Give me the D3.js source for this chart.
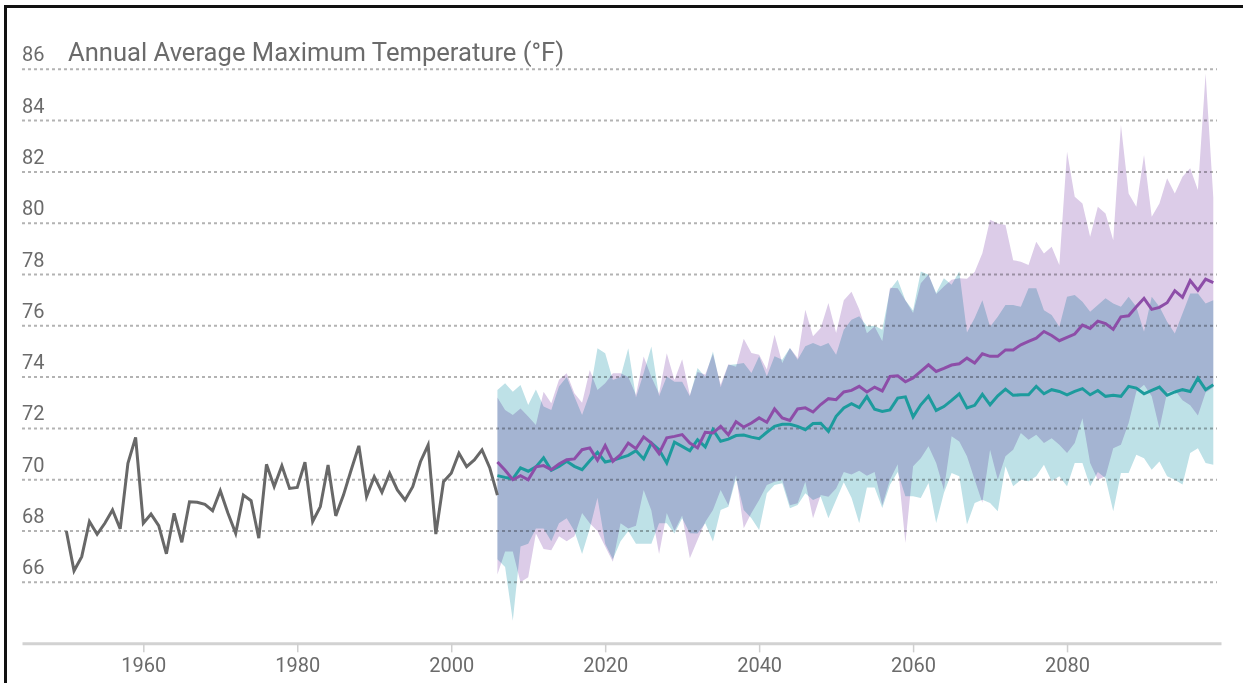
<!DOCTYPE html>
<html>
<head>
<meta charset="utf-8">
<script src="https://cdn.jsdelivr.net/npm/d3@7"></script>
<style>
  html, body { margin: 0; padding: 0; background: #ffffff; }
  svg { display: block; font-family: Roboto, "Noto Sans", sans-serif; }
  .band { mix-blend-mode: multiply; }
</style>
</head>
<body>
<svg id="chart" width="1243" height="683"></svg>
<script>
// ---------------- data ----------------
const chartTitle = "Annual Average Maximum Temperature (°F)";
const yTickValues = [66, 68, 70, 72, 74, 76, 78, 80, 82, 84, 86];
const xTickValues = [1960, 1980, 2000, 2020, 2040, 2060, 2080];

const histStartYear = 1950;
const histTemps = [
  68.00, 66.45, 67.00, 68.37, 67.87, 68.30, 68.82, 68.08, 70.64, 71.65,
  68.30, 68.66, 68.21, 67.11, 68.69, 67.56, 69.14, 69.12, 69.04, 68.79,
  69.57, 68.69, 67.91, 69.40, 69.18, 67.72, 70.60, 69.73, 70.54, 69.66,
  69.70, 70.68, 68.37, 68.95, 70.57, 68.59, 69.40, 70.38, 71.32, 69.34,
  70.12, 69.51, 70.25, 69.60, 69.21, 69.73, 70.70, 71.35, 67.88, 69.92,
  70.25, 71.03, 70.51, 70.77, 71.16, 70.47, 69.40
];

const projStartYear = 2006;
// higher emissions (purple)
const highMean = [
  70.69, 70.37, 70.00, 70.16, 70.00, 70.50, 70.55, 70.39, 70.61, 70.78,
  70.81, 71.17, 71.24, 70.76, 71.33, 70.72, 70.98, 71.43, 71.21, 71.67,
  71.43, 71.02, 71.63, 71.69, 71.76, 71.43, 71.24, 71.85, 71.82, 72.08,
  71.75, 72.26, 72.05, 72.21, 72.41, 72.24, 72.76, 72.41, 72.31, 72.76,
  72.80, 72.64, 72.93, 73.16, 73.12, 73.42, 73.48, 73.64, 73.42, 73.61,
  73.46, 74.03, 74.05, 73.82, 73.97, 74.22, 74.48, 74.22, 74.34, 74.47,
  74.52, 74.74, 74.55, 74.91, 74.81, 74.81, 75.06, 75.06, 75.26, 75.39,
  75.52, 75.78, 75.62, 75.42, 75.55, 75.68, 76.03, 75.90, 76.18, 76.09,
  75.86, 76.35, 76.39, 76.74, 77.07, 76.64, 76.72, 76.90, 77.37, 77.11,
  77.76, 77.39, 77.82, 77.68
];
const highMax = [
  73.20, 72.72, 72.52, 72.78, 72.46, 72.13, 73.43, 72.98, 73.90, 74.15,
  73.37, 73.00, 74.28, 73.50, 73.76, 74.15, 74.15, 74.00, 73.30, 74.80,
  74.00, 73.35, 74.93, 73.89, 74.70, 73.30, 74.20, 74.10, 74.90, 73.70,
  74.50, 74.40, 75.50, 74.94, 74.87, 74.30, 75.65, 74.55, 75.13, 74.74,
  76.63, 75.59, 75.91, 76.89, 75.72, 77.00, 77.33, 76.65, 75.71, 75.97,
  75.40, 77.48, 77.46, 77.00, 76.50, 77.66, 78.00, 77.24, 77.53, 77.80,
  77.85, 77.83, 78.10, 78.83, 80.13, 79.99, 79.93, 78.56, 78.50, 78.37,
  79.28, 78.82, 79.08, 78.37, 82.79, 81.03, 80.77, 79.47, 80.64, 80.38,
  79.34, 83.83, 81.16, 80.64, 82.66, 80.25, 80.77, 81.75, 81.16, 81.81,
  82.14, 81.29, 85.84, 81.00
];
const highMin = [
  66.30, 67.20, 67.20, 66.00, 66.20, 67.90, 67.30, 67.25, 67.80, 67.60,
  67.80, 68.70, 68.30, 68.00, 67.40, 66.80, 68.30, 68.10, 68.20, 69.60,
  68.80, 67.10, 68.70, 68.00, 68.60, 66.94, 67.65, 68.35, 68.82, 69.60,
  69.00, 70.18, 68.11, 68.70, 69.21, 69.79, 69.92, 69.99, 69.00, 69.08,
  69.92, 68.50, 69.40, 69.34, 69.66, 70.30, 70.20, 70.35, 70.15, 70.30,
  69.00, 70.00, 70.60, 67.53, 70.52, 70.84, 71.30, 70.65, 69.61, 71.69,
  71.49, 70.91, 70.00, 69.10, 71.17, 70.00, 70.91, 71.17, 71.82, 71.56,
  71.75, 71.43, 71.62, 71.36, 71.04, 71.43, 72.40, 70.65, 70.00, 70.13,
  71.23, 71.36, 72.21, 73.44, 73.70, 73.25, 72.00, 73.40, 73.50, 73.10,
  72.90, 72.50, 73.40, 73.60
];
// lower emissions (teal)
const lowMean = [
  70.16, 70.09, 70.03, 70.46, 70.33, 70.50, 70.85, 70.37, 70.52, 70.72,
  70.52, 70.39, 70.74, 71.07, 70.69, 70.76, 70.85, 70.95, 71.13, 70.81,
  71.43, 71.17, 70.65, 71.46, 71.30, 71.13, 71.56, 71.28, 71.95, 71.50,
  71.58, 71.72, 71.74, 71.66, 71.60, 71.85, 72.08, 72.16, 72.16, 72.08,
  71.95, 72.19, 72.20, 71.88, 72.47, 72.80, 72.96, 72.81, 73.24, 72.75,
  72.66, 72.72, 73.18, 73.23, 72.45, 72.92, 73.26, 72.70, 72.85, 73.09,
  73.35, 72.80, 72.90, 73.33, 72.92, 73.27, 73.53, 73.29, 73.31, 73.31,
  73.64, 73.35, 73.51, 73.44, 73.31, 73.44, 73.55, 73.31, 73.48, 73.25,
  73.29, 73.25, 73.64, 73.57, 73.35, 73.48, 73.61, 73.29, 73.42, 73.51,
  73.44, 73.96, 73.51, 73.70
];
const lowMax = [
  73.50, 73.76, 73.43, 73.69, 72.91, 73.52, 72.85, 72.72, 73.63, 74.00,
  73.24, 72.52, 73.37, 75.12, 74.93, 73.89, 74.00, 75.12, 73.20, 74.15,
  75.19, 73.25, 74.02, 73.82, 73.82, 73.25, 74.35, 74.00, 75.00, 73.60,
  74.47, 74.50, 74.55, 74.16, 74.81, 74.03, 74.81, 74.68, 75.13, 74.68,
  75.20, 75.33, 75.20, 75.33, 74.87, 75.85, 76.24, 76.37, 75.98, 76.00,
  75.85, 77.41, 77.80, 77.00, 76.60, 78.12, 77.99, 77.28, 77.85, 77.60,
  78.12, 75.74, 76.30, 77.00, 75.96, 76.35, 76.81, 76.81, 76.74, 77.46,
  77.46, 76.61, 76.42, 75.96, 77.13, 77.20, 76.94, 76.55, 76.81, 77.07,
  76.87, 76.74, 77.13, 76.74, 75.77, 77.13, 76.74, 76.16, 75.70, 76.48,
  77.26, 77.26, 76.87, 77.00
];
const lowMin = [
  66.90, 66.60, 64.50, 67.40, 67.50, 68.10, 68.10, 67.60, 68.30, 68.50,
  68.00, 67.10, 68.10, 69.30, 67.50, 66.90, 67.60, 68.00, 67.50, 67.50,
  67.50, 68.30, 68.30, 67.90, 68.50, 67.91, 67.90, 68.30, 67.59, 68.82,
  68.95, 70.05, 68.82, 68.50, 68.04, 69.47, 69.79, 69.86, 68.89, 69.01,
  69.47, 69.21, 69.34, 68.50, 69.21, 69.90, 69.30, 68.30, 69.70, 69.70,
  68.90, 69.80, 70.30, 69.35, 69.35, 69.29, 69.87, 68.31, 69.48, 70.26,
  70.13, 68.25, 69.09, 69.22, 69.09, 68.77, 70.52, 69.74, 70.00, 69.94,
  70.13, 70.58, 69.94, 70.13, 69.74, 70.65, 70.65, 69.74, 70.30, 70.06,
  68.77, 70.26, 70.26, 70.97, 70.84, 70.39, 70.71, 70.13, 70.00, 69.81,
  71.04, 71.23, 70.65, 70.58
];

// ---------------- layout ----------------
const W = 1243, H = 683;
const svg = d3.select("#chart");
svg.append("rect").attr("width", W).attr("height", H).attr("fill", "#ffffff");

const x = d3.scaleLinear().domain([1944.24, 2100.0]).range([22, 1221]);
const y = d3.scaleLinear().domain([66, 86]).range([582.3, 69.3]);
const axisY = y(63.62);

const hist = histTemps.map((v, i) => ({ year: histStartYear + i, v }));
const proj = highMean.map((_, i) => ({
  year: projStartYear + i,
  hMean: highMean[i], hMin: highMin[i], hMax: highMax[i],
  lMean: lowMean[i], lMin: lowMin[i], lMax: lowMax[i]
}));

// gridlines (drawn under the translucent bands)
const grid = svg.append("g");
grid.selectAll("line").data(yTickValues).join("line")
  .attr("x1", 22).attr("x2", 1217)
  .attr("y1", d => y(d)).attr("y2", d => y(d))
  .attr("stroke", "#b3b3b3").attr("stroke-width", 2)
  .attr("stroke-dasharray", "3,3");

// y labels
svg.append("g").selectAll("text").data(yTickValues).join("text")
  .attr("x", 22).attr("y", d => y(d) - 8)
  .attr("fill", "#6b6b6b").attr("font-size", 20)
  .text(d => d);

// title
svg.append("text")
  .attr("x", 68).attr("y", y(86) - 8)
  .attr("fill", "#6b6b6b").attr("font-size", 25.6)
  .text(chartTitle);

// bands
const bandHigh = d3.area().x(d => x(d.year)).y0(d => y(d.hMin)).y1(d => y(d.hMax));
const bandLow = d3.area().x(d => x(d.year)).y0(d => y(d.lMin)).y1(d => y(d.lMax));
svg.append("path").datum(proj).attr("class", "band")
  .attr("d", bandHigh).attr("fill", "#dccce8");
svg.append("path").datum(proj).attr("class", "band")
  .attr("d", bandLow).attr("fill", "#bee1e7");

// lines
const histLine = d3.line().x(d => x(d.year)).y(d => y(d.v));
svg.append("path").datum(hist).attr("d", histLine)
  .attr("fill", "none").attr("stroke", "#686868").attr("stroke-width", 3)
  .attr("stroke-linejoin", "miter");

const lowLine = d3.line().x(d => x(d.year)).y(d => y(d.lMean));
const highLine = d3.line().x(d => x(d.year)).y(d => y(d.hMean));
svg.append("path").datum(proj).attr("d", lowLine)
  .attr("fill", "none").attr("stroke", "#1d9b9d").attr("stroke-width", 3);
svg.append("path").datum(proj).attr("d", highLine)
  .attr("fill", "none").attr("stroke", "#8d4ea8").attr("stroke-width", 3);

// x axis
const xAxis = d3.axisBottom(x).tickValues(xTickValues).tickFormat(d3.format("d"))
  .tickSize(9).tickPadding(5).tickSizeOuter(0);
const gx = svg.append("g").attr("transform", `translate(0,${axisY})`).call(xAxis);
gx.select(".domain").attr("stroke", "#d2d2d2").attr("stroke-width", 3);
gx.selectAll(".tick line").attr("stroke", "#cfcfcf").attr("stroke-width", 1.5);
gx.selectAll(".tick text").attr("fill", "#6b6b6b").attr("font-size", 20)
  .attr("font-family", "Roboto, sans-serif");

// frame (top and left edges of the screenshot border)
svg.append("line").attr("x1", 4).attr("x2", W).attr("y1", 6.5).attr("y2", 6.5)
  .attr("stroke", "#111").attr("stroke-width", 3);
svg.append("line").attr("x1", 5.5).attr("x2", 5.5).attr("y1", 5).attr("y2", H)
  .attr("stroke", "#111").attr("stroke-width", 3);
</script>
</body>
</html>
